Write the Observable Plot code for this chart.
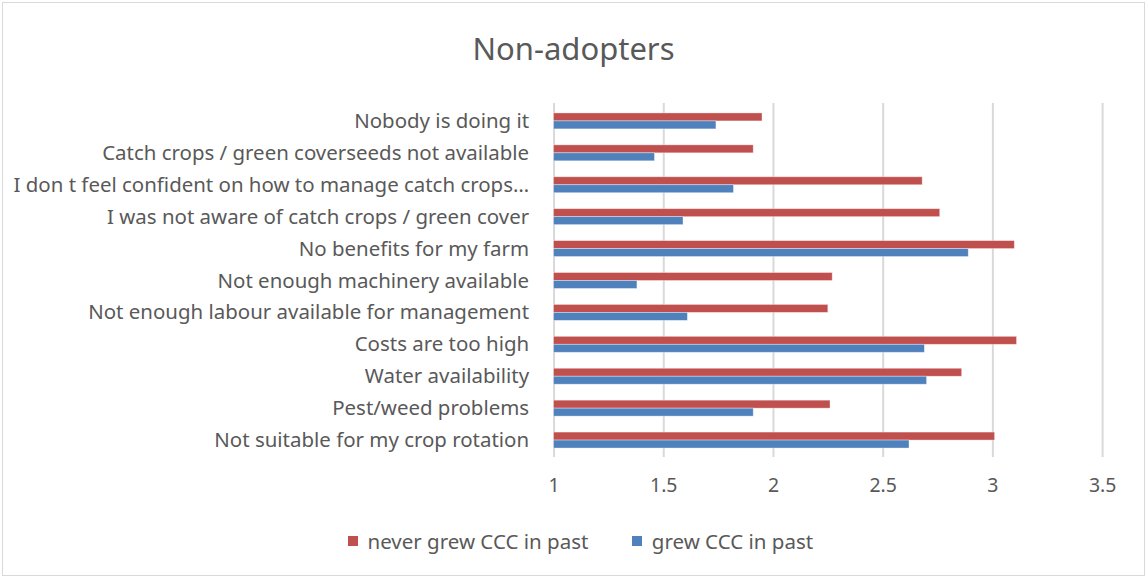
<!DOCTYPE html>
<html>
<head>
<meta charset="utf-8">
<script src="https://cdn.jsdelivr.net/npm/d3@7"></script>
<script src="https://cdn.jsdelivr.net/npm/@observablehq/plot@0.6"></script>
<style>
  html, body { margin: 0; padding: 0; background: #fff; }
  #frame {
    position: relative; width: 1143px; height: 574px; margin: 2px;
    border: 1px solid #d9d9d9; box-sizing: border-box; overflow: hidden;
    font-family: "Noto Sans", sans-serif; color: #595959;
  }
  #title { position: absolute; left: -3px; top: 25px; width: 1147px; text-align: center; font-size: 31px; line-height: 40px; }
  #chart { position: absolute; left: -3px; top: 83px; }
  #legend { position: absolute; top: 524px; left: 345px; font-size: 20.5px; line-height: 28px; display: flex; align-items: center; white-space: nowrap; }
  .item { display: flex; align-items: center; margin-right: 44px; }
  .sw { width: 9.5px; height: 10px; margin-right: 10px; }
</style>
</head>
<body>
<div id="frame">
  <div id="title">Non-adopters</div>
  <div id="chart"></div>
  <div id="legend"></div>
</div>
<script>
const categories = [
  "Nobody is doing it",
  "Catch crops / green coverseeds not available",
  "I don t feel confident on how to manage catch crops…",
  "I was not aware of catch crops / green cover",
  "No benefits for my farm",
  "Not enough machinery available",
  "Not enough labour available for management",
  "Costs are too high",
  "Water availability",
  "Pest/weed problems",
  "Not suitable for my crop rotation"
];
const neverGrew = [1.95, 1.91, 2.68, 2.76, 3.10, 2.27, 2.25, 3.11, 2.86, 2.26, 3.01];
const grewCCC   = [1.74, 1.46, 1.82, 1.59, 2.89, 1.38, 1.61, 2.69, 2.70, 1.91, 2.62];
const seriesNames = ["never grew CCC in past", "grew CCC in past"];
const seriesColors = ["#C0504D", "#4F81BD"];
const xTicks = [1, 1.5, 2, 2.5, 3, 3.5];
const axisMin = 1;

const table = categories.map((c, i) => ({category: c, never: neverGrew[i], grew: grewCCC[i]}));

const chart = Plot.plot({
  width: 1147,
  height: 420,
  marginLeft: 555,
  marginRight: 42,
  marginTop: 17,
  marginBottom: 48,
  style: {fontFamily: "Noto Sans, sans-serif", color: "#595959", background: "transparent"},
  x: {domain: [xTicks[0], xTicks[xTicks.length - 1]], ticks: xTicks, label: null},
  y: {domain: categories, padding: 0, label: null},
  marks: [
    Plot.gridX(xTicks, {stroke: "#d9d9d9", strokeWidth: 2, strokeOpacity: 1}),
    Plot.axisX(xTicks, {tickSize: 0, tickPadding: 21, fontSize: 19.5, fill: "#595959", label: null, tickFormat: d => String(d)}),
    Plot.axisY({tickSize: 0, tickPadding: 25, fontSize: 20.5, fill: "#595959", label: null}),
    Plot.barX(table, {y: "category", x1: () => axisMin, x2: "never", fill: seriesColors[0], stroke: "white", strokeOpacity: 0.45, strokeWidth: 0.8, insetTop: 8, insetBottom: 16}),
    Plot.barX(table, {y: "category", x1: () => axisMin, x2: "grew", fill: seriesColors[1], stroke: "white", strokeOpacity: 0.45, strokeWidth: 0.8, insetTop: 16, insetBottom: 8})
  ]
});
document.getElementById("chart").appendChild(chart);

const legend = document.getElementById("legend");
seriesNames.forEach((n, i) => {
  const it = document.createElement("div");
  it.className = "item";
  it.innerHTML = `<div class="sw" style="background:${seriesColors[i]}"></div><span>${n}</span>`;
  legend.appendChild(it);
});
</script>
</body>
</html>
